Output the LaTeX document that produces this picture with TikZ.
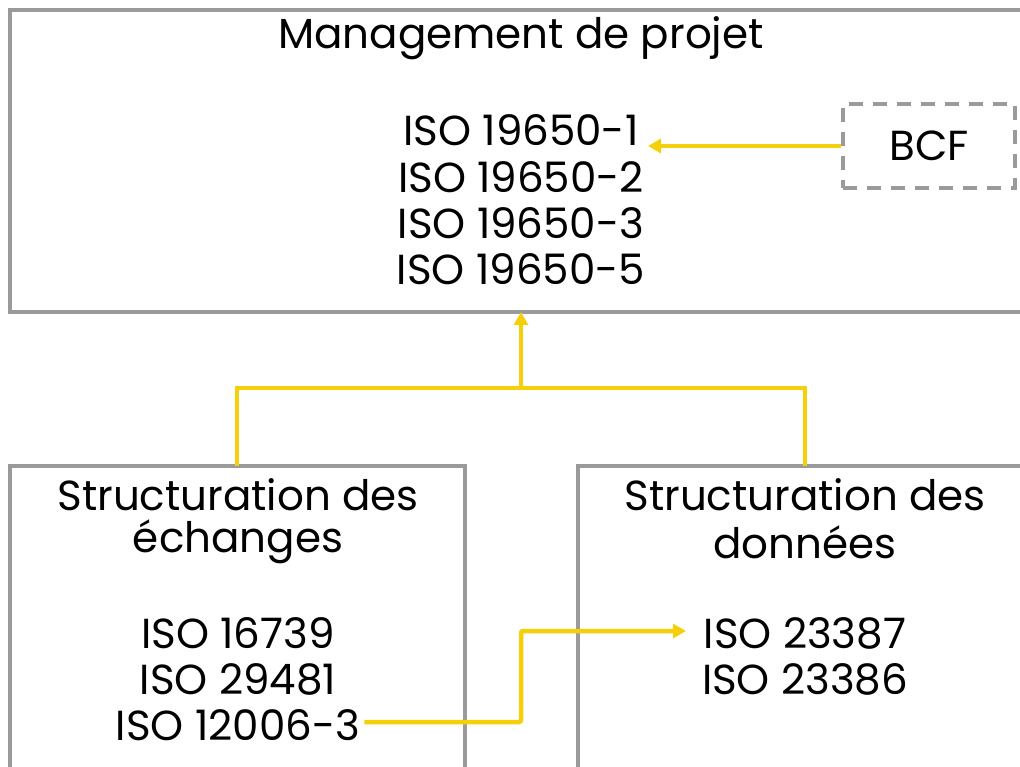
\documentclass[tikz,border=0pt]{standalone}
\usepackage{fontspec}
\setmainfont{Poppins}
\usetikzlibrary{arrows.meta}
\definecolor{boxgray}{HTML}{9A9A9A}
\definecolor{linkyellow}{HTML}{F5D00A}
\begin{document}
\begin{tikzpicture}[x=1pt,y=-1pt,
  box/.style={draw=boxgray,line width=4.5pt},
  link/.style={draw=linkyellow,line width=4.5pt},
  tip/.style={-{Triangle[length=13pt,width=14pt]}},
  txt/.style={font=\fontsize{42}{46}\selectfont,align=center,inner sep=0pt,anchor=center}]
\useasboundingbox (0,0) rectangle (1020,767);
% boxes
\draw[box] (10,10) rectangle (1040,312);
\draw[box] (10,780) |- (465,466) -- (465,780);
\draw[box] (578,780) |- (1040,466);
\node[box,dashed,dash pattern=on 14pt off 10pt,minimum width=172pt,minimum height=84pt,inner sep=0pt] (bcf) at (929,146) {};
\node[txt] at (929,146) {BCF};
% texts
\node[txt] (mgmt) at (521,38) {Management de projet};
\node[txt] (iso1) at (521,130) {ISO 19650-1};
\node[txt] (iso2) at (521,177) {ISO 19650-2};
\node[txt] (iso3) at (521,223) {ISO 19650-3};
\node[txt] (iso5) at (521,269) {ISO 19650-5};
\node[txt] (se1) at (238,495) {Structuration des};
\node[txt] (se2) at (238,542) {échanges};
\node[txt] (a1) at (238,633) {ISO 16739};
\node[txt] (a2) at (238,679) {ISO 29481};
\node[txt] (a3) at (238,725) {ISO 12006-3};
\node[txt] (sd1) at (805,495) {Structuration des};
\node[txt] (sd2) at (805,542) {données};
\node[txt] (b1) at (805,633) {ISO 23387};
\node[txt] (b2) at (805,679) {ISO 23386};
% connectors
\coordinate (top) at (521,312);
\coordinate (junc) at (521,388);
\coordinate (lt) at (237,466);
\coordinate (rt) at (805,466);
\draw[link,tip] (bcf.west) -- (648,146);
\draw[link] (lt) |- (junc) -| (rt);
\draw[link,tip] (junc) -- (top);
\draw[link,tip,rounded corners=2pt] (a3.east) ++(4,-3) -- (521,722) |- (686,631);
\end{tikzpicture}
\end{document}
